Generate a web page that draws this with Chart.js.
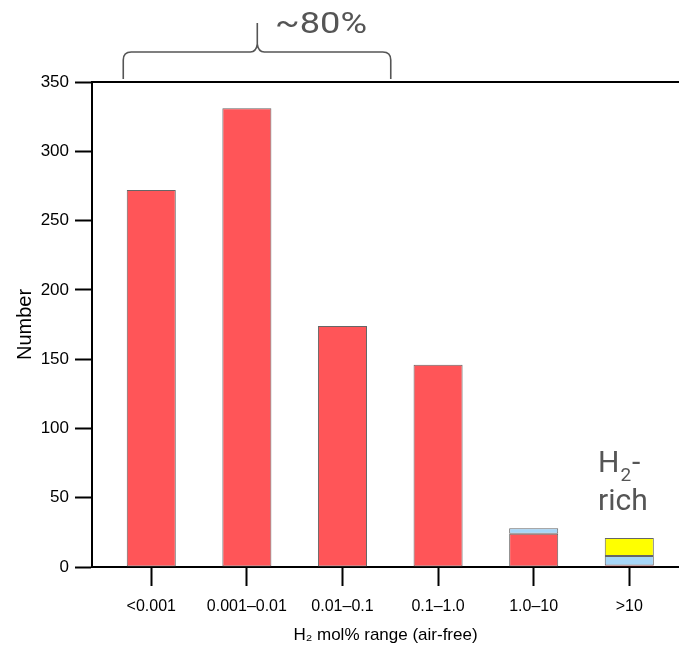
<!DOCTYPE html>
<html>
<head>
<meta charset="utf-8">
<script src="https://cdn.jsdelivr.net/npm/chart.js@4/dist/chart.umd.min.js"></script>
<style>
html,body{margin:0;padding:0;background:#fff;}
#wrap{width:679px;height:651px;position:relative;}
</style>
</head>
<body>
<div id="wrap"><canvas id="c" width="679" height="651"></canvas></div>
<script>
const categories = ['<0.001', '0.001\u20130.01', '0.01\u20130.1', '0.1\u20131.0', '1.0\u201310', '>10'];
const darkRedValues = [null, null, null, null, null, 1];
const redValues = [272, 331, 174, 146, 24, null];
const blueValues = [null, null, null, null, 4, 7];
const yellowValues = [null, null, null, null, null, 13];
const yTicks = [0, 50, 100, 150, 200, 250, 300, 350];

const sans = '"Liberation Sans", Arial, sans-serif';

function toPoints(arr) { return arr.map((v, i) => ({x: i, y: v})); }

const common = {borderColor: '#666666', borderWidth: 1, borderSkipped: false,
  barPercentage: 0.513, categoryPercentage: 1.0};

const annot = {
  id: 'annot',
  afterDraw(chart) {
    const ctx = chart.ctx;
    const xs = chart.scales.x, ys = chart.scales.y;
    const ca = chart.chartArea;
    ctx.save();
    // top frame line
    ctx.strokeStyle = '#000'; ctx.lineWidth = 2;
    ctx.beginPath();
    const yt = ys.getPixelForValue(350);
    ctx.moveTo(ca.left, yt); ctx.lineTo(ca.right, yt); ctx.stroke();

    // brace
    const L = xs.getPixelForValue(-0.293), R = xs.getPixelForValue(2.505), P = xs.getPixelForValue(1.109);
    const yb = yt - 3, yh = 52, ytip = 23;
    ctx.strokeStyle = '#555'; ctx.lineWidth = 1.6;
    ctx.beginPath();
    ctx.moveTo(L, yb); ctx.lineTo(L, yh + 8);
    ctx.quadraticCurveTo(L, yh, L + 8, yh);
    ctx.lineTo(P - 7, yh);
    ctx.quadraticCurveTo(P - 1, yh, P, yh - 8);
    ctx.quadraticCurveTo(P + 1, yh, P + 7, yh);
    ctx.lineTo(R - 8, yh);
    ctx.quadraticCurveTo(R, yh, R, yh + 8);
    ctx.lineTo(R, yb);
    ctx.moveTo(P, yh - 8); ctx.lineTo(P, ytip);
    ctx.stroke();

    // ~80%
    ctx.fillStyle = '#555';
    ctx.font = '29px Roboto, "Liberation Sans", sans-serif';
    ctx.textBaseline = 'alphabetic'; ctx.textAlign = 'left';
    const t = '~80%';
    const w = ctx.measureText(t).width;
    ctx.save();
    ctx.translate(275, 33);
    ctx.scale(Math.min(95 / w, 1.25), 1);
    ctx.fillText(t, 0, 0);
    ctx.restore();

    // H2-rich
    ctx.font = '30px Roboto, "Liberation Sans", sans-serif';
    const hx = 598;
    ctx.fillText('H', hx, 472);
    const hw = ctx.measureText('H').width;
    ctx.font = '19px Roboto, "Liberation Sans", sans-serif';
    ctx.fillText('2', hx + hw + 1, 481);
    const tw = ctx.measureText('2').width;
    ctx.font = '30px Roboto, "Liberation Sans", sans-serif';
    ctx.fillText('-', hx + hw + tw + 2, 472);
    ctx.fillText('rich', hx, 510);
    ctx.restore();
  }
};

new Chart(document.getElementById('c'), {
  type: 'bar',
  data: {
    datasets: [
      Object.assign({}, common, {label: 'a', data: toPoints(darkRedValues), backgroundColor: '#B0141E', borderColor: '#8a1018'}),
      Object.assign({label: 'b', data: toPoints(redValues), backgroundColor: '#FF5558'}, common),
      Object.assign({label: 'c', data: toPoints(blueValues), backgroundColor: '#A6D6F8'}, common),
      Object.assign({label: 'd', data: toPoints(yellowValues), backgroundColor: '#FFFF00'}, common)
    ]
  },
  options: {
    responsive: false,
    animation: false,
    layout: {padding: {top: 82, left: 0, right: 0, bottom: 0}},
    plugins: {legend: {display: false}, tooltip: {enabled: false}},
    scales: {
      x: {
        type: 'linear', stacked: true, min: -0.62, max: 5.52, offset: false,
        afterFit(s) { s.height = 84; },
        afterBuildTicks(s) { s.ticks = categories.map((c, i) => ({value: i})); },
        ticks: {autoSkip: false, maxRotation: 0, padding: 11, color: '#000',
          font: {family: sans, size: 16},
          callback: (v) => categories[v]},
        grid: {offset: false, drawOnChartArea: false, drawTicks: true, tickLength: 19, tickWidth: 2, tickColor: '#000'},
        border: {display: true, color: '#000', width: 2},
        title: {display: true, text: 'H\u2082 mol% range (air-free)', color: '#000',
          font: {family: sans, size: 17}, padding: {top: 0, bottom: 5}}
      },
      y: {
        stacked: true, min: 0, max: 350,
        afterFit(s) { s.width = 92; },
        afterBuildTicks(s) { s.ticks = yTicks.map(v => ({value: v})); },
        ticks: {padding: 6, color: '#000', font: {family: sans, size: 17}},
        grid: {drawOnChartArea: false, drawTicks: true, tickLength: 17, tickWidth: 2, tickColor: '#000'},
        border: {display: true, color: '#000', width: 2},
        title: {display: true, text: 'Number', color: '#000',
          font: {family: sans, size: 20}, padding: {top: 13, bottom: 0}}
      }
    }
  },
  plugins: [annot]
});
</script>
</body>
</html>
